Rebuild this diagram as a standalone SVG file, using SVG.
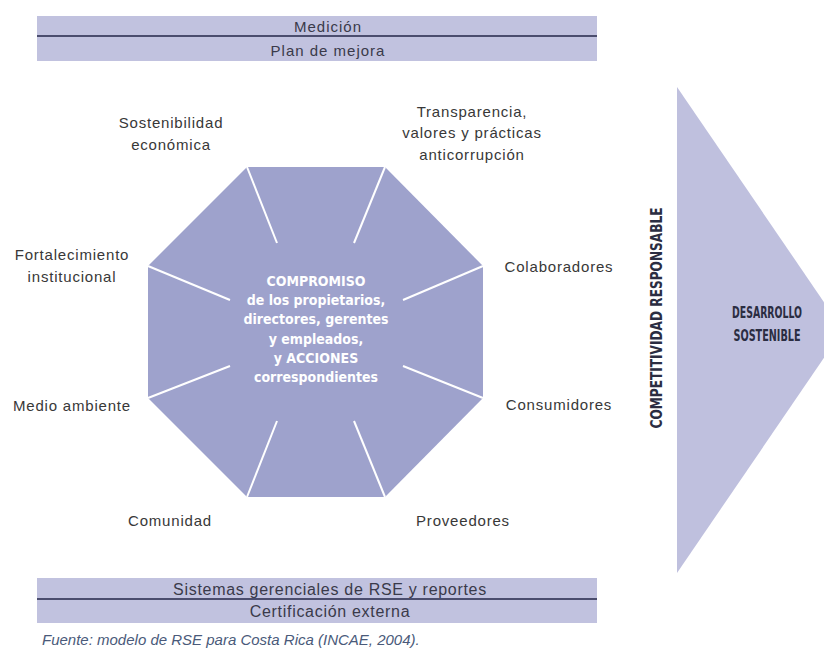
<svg xmlns="http://www.w3.org/2000/svg" width="824" height="648" viewBox="0 0 824 648">
<style>
.bar{fill:#c1c2df}
.div{stroke:#4b4d6e;stroke-width:2}
.bt{font-family:"Liberation Sans",Arial,sans-serif;font-size:15px;fill:#3a3a4a;text-anchor:middle;letter-spacing:1px}
.lb{font-family:"Liberation Sans",Arial,sans-serif;font-size:15px;fill:#383838;text-anchor:middle;letter-spacing:0.8px}
.ct{font-family:"DejaVu Sans Condensed","DejaVu Sans",sans-serif;font-stretch:condensed;font-weight:bold;font-size:14px;fill:#fff;text-anchor:middle}
.dk{font-family:"DejaVu Sans Condensed","DejaVu Sans",sans-serif;font-stretch:condensed;font-weight:bold;font-size:15px;fill:#2b2d42;text-anchor:middle}
.spoke{stroke:#fff;stroke-width:2;fill:none}
.src{font-family:"Liberation Sans",Arial,sans-serif;font-size:15px;font-style:italic;fill:#4a5a7a}
</style>
<rect width="824" height="648" fill="#fff"/>
<g id="top-bar">
<rect class="bar" x="37" y="16" width="560" height="45"/>
<line class="div" x1="37" y1="36" x2="597" y2="36"/>
<text class="bt" x="328" y="32">Medición</text>
<text class="bt" x="328" y="56">Plan de mejora</text>
</g>
<g id="arrow">
<polygon points="677,87 843,330 677,573" fill="#bfc0de"/>
<text class="dk" x="767" y="318" textLength="70" lengthAdjust="spacingAndGlyphs">DESARROLLO</text>
<text class="dk" x="767" y="341" textLength="67" lengthAdjust="spacingAndGlyphs">SOSTENIBLE</text>
</g>
<g id="competitividad">
<text class="dk" style="font-size:16px" transform="translate(662,318) rotate(-90)" x="0" y="0" textLength="221" lengthAdjust="spacingAndGlyphs">COMPETITIVIDAD RESPONSABLE</text>
</g>
<g id="octagon">
<polygon points="247,167 385,167 483,266 483,398 385,497 247,497 148,398 148,266" fill="#9ea2cc"/>
<text class="ct" x="316" y="286">COMPROMISO</text>
<text class="ct" x="316" y="305">de los propietarios,</text>
<text class="ct" x="316" y="324">directores, gerentes</text>
<text class="ct" x="316" y="344">y empleados,</text>
<text class="ct" x="316" y="363">y ACCIONES</text>
<text class="ct" x="316" y="382">correspondientes</text>
</g>
<g id="connectors">
<line class="spoke" x1="247" y1="167" x2="277" y2="243"/>
<line class="spoke" x1="385" y1="167" x2="354" y2="243"/>
<line class="spoke" x1="483" y1="266" x2="403" y2="300"/>
<line class="spoke" x1="483" y1="398" x2="403" y2="366"/>
<line class="spoke" x1="385" y1="497" x2="354" y2="421"/>
<line class="spoke" x1="247" y1="497" x2="277" y2="421"/>
<line class="spoke" x1="148" y1="398" x2="230" y2="366"/>
<line class="spoke" x1="148" y1="266" x2="230" y2="300"/>
</g>
<g id="sostenibilidad"><text class="lb" x="171" y="128">Sostenibilidad</text><text class="lb" x="171" y="150">económica</text></g>
<g id="transparencia"><text class="lb" x="472" y="117">Transparencia,</text><text class="lb" x="472" y="138">valores y prácticas</text><text class="lb" x="472" y="160">anticorrupción</text></g>
<g id="fortalecimiento"><text class="lb" x="72" y="260">Fortalecimiento</text><text class="lb" x="72" y="282">institucional</text></g>
<g id="colaboradores"><text class="lb" x="559" y="272">Colaboradores</text></g>
<g id="medio-ambiente"><text class="lb" x="72" y="411">Medio ambiente</text></g>
<g id="consumidores"><text class="lb" x="559" y="410">Consumidores</text></g>
<g id="comunidad"><text class="lb" x="170" y="526">Comunidad</text></g>
<g id="proveedores"><text class="lb" x="463" y="526">Proveedores</text></g>
<g id="bottom-bar">
<rect class="bar" x="37" y="578" width="560" height="45"/>
<line class="div" x1="37" y1="599" x2="597" y2="599"/>
<text class="bt" x="330" y="595" style="font-size:16px;letter-spacing:0.7px">Sistemas gerenciales de RSE y reportes</text>
<text class="bt" x="330" y="617" style="font-size:16px;letter-spacing:0.7px">Certificación externa</text>
</g>
<g id="source"><text class="src" x="42" y="645">Fuente: modelo de RSE para Costa Rica (INCAE, 2004).</text></g>
</svg>
